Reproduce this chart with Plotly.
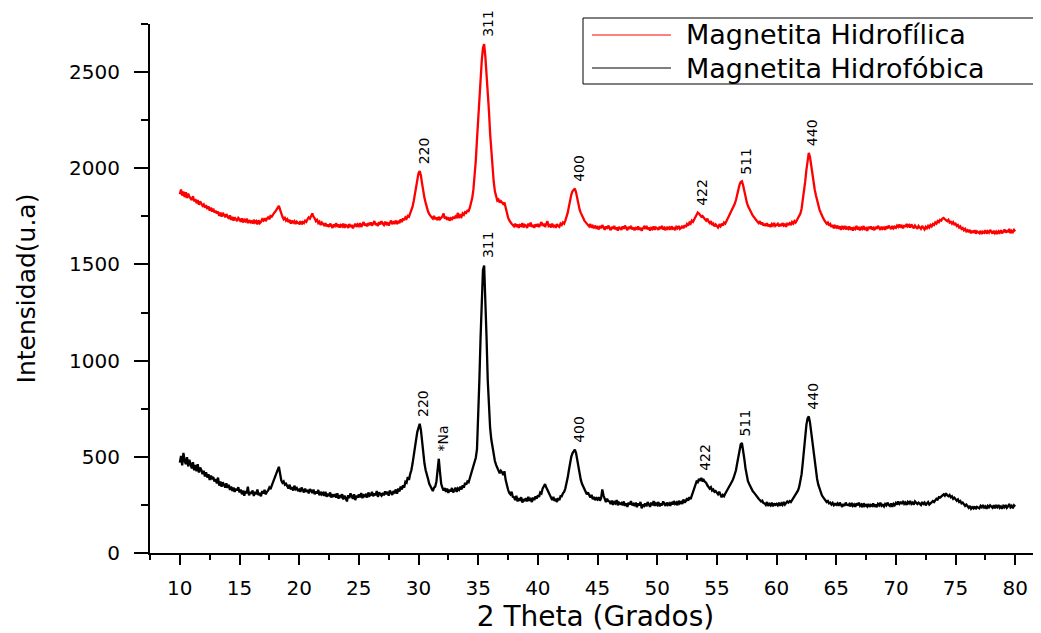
import numpy as np
import plotly.graph_objects as go

# 2-theta grid (instrument step 0.1 deg), 10.0 .. 80.0
theta_start, theta_step, n_pts = 10.0, 0.1, 701
two_theta = np.round(theta_start + theta_step * np.arange(n_pts), 1)

hidrofilica = [
    1865, 1890, 1858, 1880, 1850, 1875, 1845, 1868, 1852, 1840,
    1835, 1855, 1828, 1840, 1818, 1835, 1810, 1828, 1815, 1805,
    1812, 1795, 1808, 1788, 1802, 1780, 1795, 1775, 1790, 1770,
    1780, 1765, 1775, 1752, 1770, 1748, 1768, 1755, 1745, 1762,
    1750, 1738, 1755, 1732, 1748, 1728, 1745, 1735, 1725, 1742,
    1735, 1722, 1740, 1718, 1732, 1725, 1738, 1715, 1730, 1720,
    1728, 1712, 1732, 1718, 1725, 1708, 1730, 1715, 1722, 1735,
    1728, 1740, 1725, 1738, 1745, 1735, 1752, 1748, 1760, 1768,
    1775, 1785, 1795, 1805, 1785, 1760, 1748, 1735, 1742, 1728,
    1735, 1720, 1732, 1712, 1728, 1718, 1725, 1710, 1722, 1715,
    1712, 1725, 1708, 1720, 1715, 1728, 1722, 1735, 1745, 1738,
    1752, 1765, 1748, 1740, 1725, 1732, 1715, 1722, 1705, 1718,
    1712, 1700, 1715, 1698, 1708, 1695, 1712, 1702, 1690, 1708,
    1700, 1715, 1695, 1708, 1692, 1705, 1698, 1712, 1690, 1705,
    1702, 1690, 1710, 1695, 1705, 1688, 1700, 1712, 1695, 1708,
    1700, 1715, 1695, 1708, 1720, 1702, 1712, 1698, 1715, 1705,
    1718, 1702, 1712, 1725, 1705, 1715, 1700, 1720, 1708, 1725,
    1712, 1705, 1722, 1710, 1718, 1702, 1715, 1728, 1710, 1720,
    1715, 1728, 1710, 1722, 1715, 1735, 1720, 1740, 1730, 1745,
    1738, 1752, 1748, 1765, 1780, 1800, 1830, 1870, 1920, 1955,
    1975, 1985, 1962, 1920, 1875, 1845, 1820, 1795, 1775, 1762,
    1750, 1745, 1738, 1752, 1735, 1745, 1730, 1748, 1735, 1742,
    1750, 1765, 1738, 1748, 1732, 1745, 1728, 1740, 1735, 1748,
    1738, 1750, 1745, 1768, 1742, 1755, 1748, 1765, 1758, 1772,
    1768, 1780, 1778, 1795, 1815, 1845, 1890, 1960, 2040, 2150,
    2260, 2370, 2470, 2560, 2625, 2645, 2580, 2500, 2410, 2300,
    2180, 2080, 1990, 1930, 1880, 1850, 1832, 1838, 1822, 1830,
    1825, 1815, 1822, 1790, 1765, 1745, 1730, 1718, 1712, 1705,
    1698, 1712, 1695, 1708, 1690, 1705, 1700, 1715, 1692, 1706,
    1702, 1690, 1712, 1698, 1718, 1695, 1705, 1690, 1708, 1698,
    1710, 1695, 1705, 1720, 1700, 1712, 1695, 1708, 1725, 1700,
    1705, 1692, 1712, 1698, 1706, 1690, 1710, 1700, 1695, 1712,
    1705, 1718, 1712, 1728, 1745, 1768, 1800, 1835, 1862, 1880,
    1885, 1895, 1875, 1840, 1810, 1785, 1768, 1752, 1745, 1728,
    1720, 1712, 1705, 1698, 1710, 1692, 1700, 1688, 1702, 1690,
    1695, 1682, 1700, 1688, 1705, 1690, 1680, 1698, 1685, 1702,
    1690, 1678, 1695, 1685, 1700, 1682, 1692, 1676, 1695, 1688,
    1680, 1698, 1685, 1702, 1688, 1678, 1695, 1685, 1700, 1682,
    1692, 1678, 1690, 1685, 1698, 1680, 1692, 1675, 1688, 1696,
    1685, 1700, 1682, 1692, 1676, 1690, 1684, 1698, 1680, 1692,
    1688, 1680, 1696, 1685, 1700, 1682, 1690, 1678, 1695, 1685,
    1692, 1680, 1698, 1686, 1690, 1678, 1695, 1688, 1700, 1685,
    1690, 1700, 1688, 1705, 1695, 1710, 1702, 1718, 1712, 1728,
    1722, 1735, 1748, 1760, 1770, 1765, 1758, 1748, 1752, 1740,
    1735, 1728, 1738, 1722, 1715, 1725, 1705, 1712, 1698, 1708,
    1700, 1692, 1705, 1698, 1712, 1702, 1718, 1712, 1725, 1738,
    1748, 1758, 1770, 1782, 1798, 1815, 1835, 1865, 1895, 1915,
    1928, 1932, 1912, 1880, 1850, 1825, 1805, 1795, 1780, 1768,
    1755, 1745, 1738, 1730, 1722, 1715, 1725, 1708, 1718, 1702,
    1712, 1700, 1715, 1698, 1708, 1695, 1710, 1702, 1716, 1700,
    1705, 1712, 1698, 1710, 1700, 1715, 1702, 1708, 1696, 1712,
    1708, 1715, 1705, 1720, 1712, 1725, 1718, 1730, 1738, 1748,
    1765, 1790, 1830, 1885, 1930, 1990, 2050, 2080, 2060, 2010,
    1965, 1925, 1890, 1860, 1830, 1805, 1785, 1770, 1752, 1742,
    1730, 1722, 1712, 1718, 1702, 1710, 1695, 1705, 1688, 1700,
    1692, 1702, 1685, 1698, 1680, 1695, 1688, 1700, 1682, 1692,
    1685, 1698, 1680, 1692, 1676, 1690, 1684, 1700, 1682, 1690,
    1678, 1692, 1685, 1700, 1680, 1688, 1675, 1695, 1685, 1698,
    1682, 1690, 1678, 1695, 1685, 1700, 1688, 1680, 1696, 1685,
    1692, 1680, 1698, 1686, 1702, 1690, 1684, 1700, 1688, 1696,
    1690, 1702, 1695, 1708, 1692, 1700, 1688, 1705, 1695, 1710,
    1698, 1705, 1692, 1708, 1700, 1688, 1702, 1695, 1685, 1700,
    1692, 1685, 1700, 1690, 1682, 1695, 1688, 1700, 1692, 1705,
    1698, 1710, 1705, 1718, 1712, 1725, 1720, 1732, 1728, 1738,
    1742, 1735, 1730, 1725, 1732, 1718, 1722, 1712, 1720, 1708,
    1712, 1700, 1705, 1692, 1698, 1685, 1690, 1678, 1685, 1672,
    1678, 1668, 1680, 1662, 1675, 1665, 1678, 1660, 1672, 1668,
    1662, 1675, 1658, 1670, 1665, 1678, 1660, 1672, 1665, 1680,
    1668, 1660, 1675, 1662, 1670, 1658, 1672, 1665, 1678, 1662,
    1670, 1682, 1665, 1678, 1668, 1685, 1662, 1675, 1668, 1680,
    1672,
]

hidrofobica = [
    470, 505, 455, 520, 480, 462, 498, 450, 485, 458,
    440, 472, 430, 458, 425, 462, 418, 445, 432, 410,
    428, 398, 420, 392, 410, 380, 402, 388, 395, 372,
    385, 362, 392, 350, 372, 345, 368, 355, 340, 362,
    338, 355, 328, 345, 322, 340, 318, 335, 325, 342,
    315, 330, 305, 325, 298, 322, 310, 345, 300, 318,
    308, 325, 296, 318, 305, 330, 300, 312, 295, 322,
    310, 328, 305, 318, 325, 340, 332, 350, 365, 382,
    392, 410, 432, 448, 405, 378, 365, 372, 355, 360,
    348, 335, 355, 330, 342, 325, 350, 332, 338, 322,
    330, 318, 340, 322, 315, 335, 318, 328, 310, 332,
    325, 312, 330, 305, 320, 310, 328, 300, 318, 305,
    312, 298, 318, 292, 308, 300, 315, 288, 305, 296,
    302, 288, 310, 282, 300, 292, 305, 278, 298, 285,
    268, 300, 285, 310, 290, 282, 305, 275, 298, 288,
    305, 290, 312, 285, 300, 295, 308, 288, 315, 298,
    302, 318, 295, 310, 300, 322, 292, 315, 305, 298,
    312, 300, 320, 305, 318, 298, 325, 310, 302, 322,
    315, 330, 308, 335, 320, 345, 330, 352, 340, 370,
    365, 395, 380, 410, 430, 465, 500, 545, 590, 630,
    650, 672, 640, 575, 510, 465, 430, 400, 385, 360,
    348, 330, 322, 340, 345, 372, 430, 490, 420, 360,
    340, 325, 338, 318, 335, 312, 330, 320, 338, 315,
    325, 340, 318, 335, 328, 345, 330, 352, 340, 365,
    355, 372, 368, 390, 405, 425, 450, 470, 495, 540,
    680, 900, 1120, 1330, 1470, 1495, 1350, 1120, 900, 740,
    650, 590, 548, 505, 478, 458, 440, 425, 415, 428,
    420, 405, 425, 380, 350, 330, 312, 305, 318, 292,
    290, 275, 298, 268, 285, 272, 290, 262, 280, 270,
    285, 268, 292, 272, 280, 265, 288, 275, 295, 282,
    300, 292, 315, 310, 335, 350, 358, 342, 330, 315,
    300, 288, 275, 292, 270, 282, 265, 285, 275, 295,
    295, 310, 318, 335, 360, 392, 430, 470, 500, 518,
    530, 538, 520, 480, 440, 405, 380, 360, 345, 330,
    322, 305, 315, 295, 288, 302, 280, 292, 275, 285,
    278, 290, 272, 285, 330, 300, 278, 265, 282, 270,
    268, 255, 272, 250, 265, 258, 275, 248, 262, 255,
    260, 248, 268, 245, 258, 240, 262, 252, 270, 248,
    255, 245, 262, 238, 258, 248, 265, 232, 252, 245,
    258, 242, 265, 250, 240, 262, 248, 270, 245, 258,
    250, 265, 242, 258, 248, 268, 252, 245, 262, 250,
    258, 245, 265, 252, 270, 255, 262, 248, 272, 258,
    265, 255, 278, 262, 270, 285, 272, 290, 280, 300,
    318, 335, 355, 372, 368, 385, 375, 390, 372, 380,
    370, 365, 352, 345, 335, 342, 325, 330, 318, 322,
    312, 305, 318, 298, 290, 302, 295, 308, 318, 332,
    340, 352, 362, 375, 390, 405, 430, 465, 505, 545,
    565, 572, 540, 490, 440, 400, 375, 360, 348, 330,
    322, 315, 305, 298, 290, 282, 275, 268, 272, 260,
    258, 250, 265, 245, 255, 248, 262, 242, 258, 250,
    255, 248, 262, 245, 258, 250, 265, 252, 260, 268,
    262, 270, 265, 275, 280, 290, 300, 310, 325, 345,
    370, 410, 470, 540, 610, 665, 700, 710, 680, 630,
    575, 520, 470, 420, 385, 355, 335, 318, 300, 290,
    282, 275, 265, 270, 258, 262, 252, 260, 248, 255,
    250, 258, 245, 262, 248, 240, 255, 245, 262, 250,
    248, 255, 242, 260, 245, 252, 240, 258, 248, 262,
    245, 252, 238, 258, 245, 250, 242, 255, 240, 250,
    245, 258, 240, 252, 238, 255, 248, 262, 245, 250,
    242, 255, 248, 262, 250, 245, 258, 240, 255, 248,
    260, 252, 268, 255, 262, 258, 270, 255, 262, 250,
    265, 258, 270, 255, 262, 252, 268, 260, 255, 262,
    258, 250, 265, 255, 262, 248, 258, 265, 252, 260,
    262, 270, 265, 275, 282, 278, 290, 288, 295, 300,
    305, 298, 310, 300, 295, 302, 290, 295, 282, 288,
    280, 272, 278, 265, 270, 258, 262, 250, 245, 252,
    240, 235, 245, 230, 238, 232, 242, 228, 240, 235,
    232, 245, 238, 250, 236, 242, 230, 245, 238, 248,
    240, 235, 248, 232, 245, 238, 250, 235, 242, 230,
    245, 238, 250, 235, 242, 255, 238, 245, 232, 248,
    242,
]

# Peak labels (Miller indices) and approximate peak angles
red_labels = ["220", "311", "400", "422", "511", "440"]
red_peaks = [30.1, 35.5, 43.1, 53.4, 57.1, 62.7]
black_labels = ["220", "*Na", "311", "400", "422", "511", "440"]
black_peaks = [30.1, 31.7, 35.5, 43.1, 53.7, 57.1, 62.7]

series_names = ["Magnetita Hidrofílica", "Magnetita Hidrofóbica"]
x_ticks = [10, 15, 20, 25, 30, 35, 40, 45, 50, 55, 60, 65, 70, 75, 80]
y_ticks = [0, 500, 1000, 1500, 2000, 2500]

FONT = "DejaVu Sans"
RED = "#ff0000"
BLACK = "#000000"

# The page body has an 8 px default margin: size the figure so that the
# plot area lands where the reference has it in the 1041x633 window.
OFF = 8
FIG_W, FIG_H = 1041 - OFF, 633 - OFF
L, W = 150 - OFF, 891
T, H = 24 - OFF, 529

fig = go.Figure()
fig.add_trace(go.Scatter(x=two_theta, y=hidrofilica, mode="lines",
                         line=dict(color=RED, width=2.3), name=series_names[0],
                         showlegend=False))
fig.add_trace(go.Scatter(x=two_theta, y=hidrofobica, mode="lines",
                         line=dict(color=BLACK, width=2.3), name=series_names[1],
                         showlegend=False))


def peak_value(series, angle):
    arr = np.asarray(series)
    m = (two_theta >= angle - 0.3) & (two_theta <= angle + 0.3)
    return arr[m].max()


annotations = []
for lab, ang in zip(red_labels, red_peaks):
    annotations.append(dict(x=ang, y=peak_value(hidrofilica, ang), text=lab,
                            textangle=-90, showarrow=False, xanchor="center",
                            yanchor="bottom", xshift=4, yshift=5,
                            font=dict(family=FONT, size=14, color="black")))
for lab, ang in zip(black_labels, black_peaks):
    annotations.append(dict(x=ang, y=peak_value(hidrofobica, ang), text=lab,
                            textangle=-90, showarrow=False, xanchor="center",
                            yanchor="bottom", xshift=4, yshift=5,
                            font=dict(family=FONT, size=14, color="black")))


# custom legend, placed in page pixels (converted to paper coordinates)
def px(xp):
    return (xp - OFF - L) / W


def py(yp):
    return 1 - (yp - OFF - T) / H


shapes = [
    dict(type="rect", xref="paper", yref="paper", x0=px(583), x1=px(1035),
         y0=py(84), y1=py(18), line=dict(color="black", width=1), fillcolor="white",
         layer="above"),
    dict(type="line", xref="paper", yref="paper", x0=px(592), x1=px(671),
         y0=py(35), y1=py(35), line=dict(color=RED, width=1), layer="above"),
    dict(type="line", xref="paper", yref="paper", x0=px(592), x1=px(671),
         y0=py(68), y1=py(68), line=dict(color=BLACK, width=1), layer="above"),
]
annotations.append(dict(xref="paper", yref="paper", x=px(684), y=py(35),
                        text=series_names[0], showarrow=False, xanchor="left",
                        yanchor="middle", font=dict(family=FONT, size=27, color="black")))
annotations.append(dict(xref="paper", yref="paper", x=px(684), y=py(68),
                        text=series_names[1], showarrow=False, xanchor="left",
                        yanchor="middle", font=dict(family=FONT, size=27, color="black")))

fig.update_layout(
    width=FIG_W, height=FIG_H,
    margin=dict(l=L, r=FIG_W - L - W, t=T, b=FIG_H - T - H),
    paper_bgcolor="white", plot_bgcolor="white",
    font=dict(family=FONT, color="black"),
    annotations=annotations, shapes=shapes,
    showlegend=False,
)
fig.update_xaxes(
    range=[7.5, 7.5 + W / 11.934], tickvals=x_ticks, ticks="outside", ticklen=10,
    tickwidth=2, tickcolor="black", showline=True, linecolor="black", linewidth=2,
    showgrid=False, zeroline=False, automargin=False,
    minor=dict(dtick=2.5, tick0=0, ticks="outside", ticklen=5, tickwidth=2,
               tickcolor="black", showgrid=False),
    tickfont=dict(family=FONT, size=20, color="black"),
    ticklabelstandoff=6,
    title=dict(text="2 Theta (Grados)", font=dict(family=FONT, size=28, color="black"),
               standoff=8),
)
fig.update_yaxes(
    range=[0, 2750], tickvals=y_ticks, ticks="outside", ticklen=14,
    tickwidth=2, tickcolor="black", showline=True, linecolor="black", linewidth=2,
    showgrid=False, zeroline=False, automargin=False,
    minor=dict(dtick=250, tick0=0, ticks="outside", ticklen=7, tickwidth=2,
               tickcolor="black", showgrid=False),
    tickfont=dict(family=FONT, size=20, color="black"),
    ticklabelstandoff=10,
    title=dict(text="Intensidad(u.a)", font=dict(family=FONT, size=25, color="black"),
               standoff=26),
)

fig.write_html("out.html")
